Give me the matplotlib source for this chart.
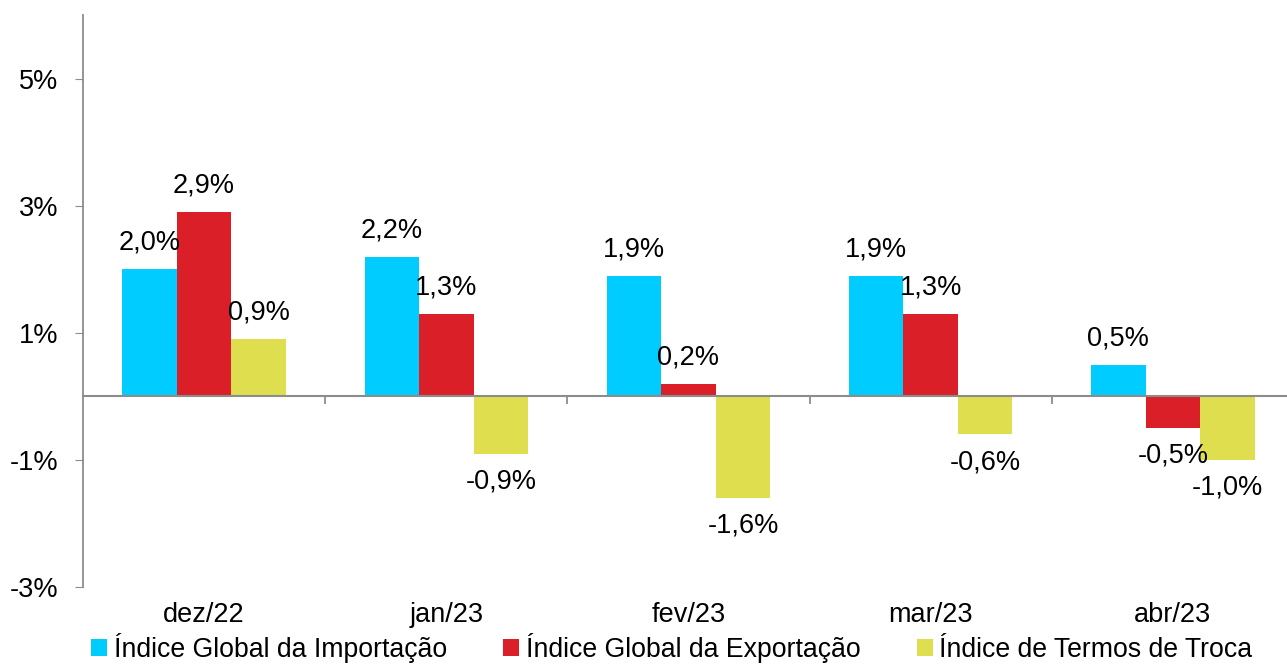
import matplotlib
matplotlib.use("Agg")
import matplotlib.pyplot as plt
import numpy as np

plt.rcParams['font.family'] = ['Liberation Sans', 'DejaVu Sans']

categories = ["dez/22", "jan/23", "fev/23", "mar/23", "abr/23"]
series_names = ["Índice Global da Importação", "Índice Global da Exportação", "Índice de Termos de Troca"]
importacao = [2.0, 2.2, 1.9, 1.9, 0.5]
exportacao = [2.9, 1.3, 0.2, 1.3, -0.5]
termos = [0.9, -0.9, -1.6, -0.6, -1.0]
colors = ["#00CCFF", "#DA1F28", "#DEDE4E"]
yticks = [-3, -1, 1, 3, 5]

W, H = 1287, 668
fig = plt.figure(figsize=(W / 100, H / 100), dpi=100)
ax = fig.add_axes([83 / W, 1 - 587 / H, (1294 - 83) / W, (587 - 15) / H])

x = np.arange(len(categories))
bw = 0.225
gray = "#8C8C8C"
fs = 19.5
for k, (vals, c) in enumerate(zip([importacao, exportacao, termos], colors)):
    pos = x + (k - 1) * bw
    bars = ax.bar(pos, vals, bw, color=c, label=series_names[k], zorder=2)
    for xi, v in zip(pos, vals):
        ax.annotate(f"{v:.1f}%".replace(".", ","), (xi, v),
                    xytext=(0, 19 if v >= 0 else -20), textcoords="offset points",
                    ha="center", va="center", fontsize=fs, color="black")

ax.set_xlim(-0.5, len(categories) - 0.5)
ax.set_ylim(-3, 6)

# y axis
ax.set_yticks(yticks)
ax.set_yticklabels([f"{t}%" for t in yticks])
ax.tick_params(axis="y", direction="out", length=6, color=gray, labelsize=fs, pad=12)
ax.spines["left"].set_color(gray)
ax.spines["left"].set_linewidth(1.3)
ax.spines["top"].set_visible(False)
ax.spines["right"].set_visible(False)

# x axis line at zero with boundary ticks
ax.spines["bottom"].set_position(("data", 0))
ax.spines["bottom"].set_color(gray)
ax.spines["bottom"].set_linewidth(1.5)
ax.spines["bottom"].set_zorder(3)
ax.set_xticks(np.arange(len(categories) - 1) + 0.5)
ax.set_xticklabels([])
ax.tick_params(axis="x", direction="out", length=6, color=gray, width=1.3)

sec = ax.secondary_xaxis(location=0)
sec.set_xticks(x)
sec.set_xticklabels(categories)
sec.tick_params(length=0, labelsize=fs, pad=11)
sec.spines["bottom"].set_visible(False)

handles, labels = ax.get_legend_handles_labels()
leg = fig.legend(handles, labels, loc="lower center", ncol=3, frameon=False,
                 bbox_to_anchor=(0.522, -0.028), fontsize=19.2,
                 handlelength=0.6, handleheight=0.6, handletextpad=0.25,
                 columnspacing=2.1)

fig.savefig("out.png", dpi=100)
